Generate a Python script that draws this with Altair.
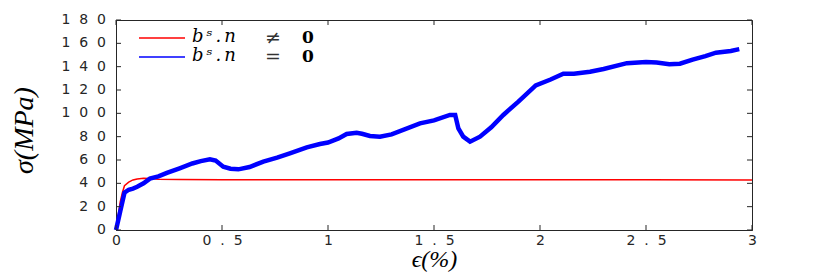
import altair as alt
import pandas as pd

# ---- data ----
x_ticks = [0, 0.5, 1, 1.5, 2, 2.5, 3]
y_ticks = [0, 20, 40, 60, 80, 100, 120, 140, 160, 180]

series = ["bˢ.n ≠ 0", "bˢ.n = 0"]
series_colors = ["#ff0000", "#0000ff"]
legend_var = ["bˢ.n", "bˢ.n"]
legend_rel = ["≠", "="]
legend_val = ["0", "0"]

red_x = [0, 0.01, 0.02, 0.03, 0.04, 0.06, 0.08, 0.1, 0.13, 0.16, 0.2, 0.3, 0.5,
         1.0, 1.5, 2.0, 2.5, 3.0]
red_y = [0, 12, 24, 32, 38, 41, 42.9, 43.8, 44.3, 44.2, 43.6, 43.2, 43.1,
         43.1, 43.1, 43.1, 43.0, 42.9]

blue_x = [0, 0.01, 0.02, 0.03, 0.04, 0.06, 0.08, 0.1, 0.13, 0.16, 0.2, 0.24,
          0.3, 0.36, 0.4, 0.443, 0.47, 0.506, 0.54, 0.577, 0.63, 0.695, 0.76,
          0.82, 0.9, 0.962, 1.0, 1.05, 1.088, 1.135, 1.16, 1.198, 1.245, 1.3,
          1.434, 1.5, 1.575, 1.6, 1.615, 1.638, 1.67, 1.717, 1.77, 1.827,
          1.898, 1.98, 2.05, 2.11, 2.16, 2.236, 2.3, 2.41, 2.5, 2.55, 2.61,
          2.66, 2.72, 2.78, 2.83, 2.9, 2.94]
blue_y = [0, 8, 16, 24, 32, 34.5, 35.5, 37, 40, 44, 46, 49,
          52.9, 57, 59, 60.6, 59.5, 54.3, 52.5, 52, 54, 58.6, 62,
          65.7, 70.9, 73.7, 75, 78.5, 82.3, 83.4, 82.5, 80.6, 80, 82,
          91.4, 94, 98.6, 98.6, 87, 80, 75.7, 80, 88, 98.6,
          110, 124, 129, 134, 134, 135.7, 138, 143, 144, 143.5, 142,
          142.5, 146, 149, 152, 153.5, 155]

df_red = pd.DataFrame({"x": red_x, "y": red_y, "s": series[0]})
df_blue = pd.DataFrame({"x": blue_x, "y": blue_y, "s": series[1]})
df_xt = pd.DataFrame({"x": x_ticks})
df_yt = pd.DataFrame({"y": y_ticks})
df_leg = pd.DataFrame({"s": series, "var": legend_var, "rel": legend_rel,
                       "val": legend_val, "row": [0, 1]})

W, H = 636, 210
FRAME = "#262626"
SPACE = "\u2007"
LABEL_EXPR = f"join(split(format(datum.value, '~g'), ''), '{SPACE}')"

xscale = alt.Scale(domain=[0, 3], nice=False, zero=False)
yscale = alt.Scale(domain=[0, 180], nice=False, zero=False)
color = alt.Color(
    "s:N",
    scale=alt.Scale(domain=series, range=series_colors),
    legend=None,
)

xaxis = alt.Axis(
    values=x_ticks,
    title="ϵ(%)",
    titleFont="Liberation Serif",
    titleFontStyle="italic",
    titleFontWeight="normal",
    titleFontSize=24,
    titleColor="#000000",
    titleX=W / 2,
    titleY=29,
    titleBaseline="middle",
    labelExpr=LABEL_EXPR,
    labelPadding=3,
    labelOverlap=False,
    labelFlush=False,
)
yaxis = alt.Axis(
    values=y_ticks,
    title="σ(MPa)",
    titleFont="Liberation Serif",
    titleFontStyle="italic",
    titleFontWeight="normal",
    titleFontSize=28,
    titleColor="#000000",
    titleX=-92,
    titleY=H / 2 + 5,
    titleAngle=-90,
    titleBaseline="middle",
    titleAlign="center",
    labels=False,
)

red = alt.Chart(df_red).mark_line(strokeWidth=1.5).encode(
    x=alt.X("x:Q", scale=xscale, axis=xaxis),
    y=alt.Y("y:Q", scale=yscale, axis=yaxis),
    color=color,
)
blue = alt.Chart(df_blue).mark_line(strokeWidth=4.5).encode(
    x=alt.X("x:Q", scale=xscale),
    y=alt.Y("y:Q", scale=yscale),
    color=color,
)

tick_style = dict(color=FRAME, strokeWidth=1)
xt_bottom = alt.Chart(df_xt).mark_rule(**tick_style).encode(
    x=alt.X("x:Q", scale=xscale), y=alt.value(H), y2=alt.value(H - 5))
xt_top = alt.Chart(df_xt).mark_rule(**tick_style).encode(
    x=alt.X("x:Q", scale=xscale), y=alt.value(0), y2=alt.value(5))
yt_left = alt.Chart(df_yt).mark_rule(**tick_style).encode(
    y=alt.Y("y:Q", scale=yscale), x=alt.value(0), x2=alt.value(5))
yt_right = alt.Chart(df_yt).mark_rule(**tick_style).encode(
    y=alt.Y("y:Q", scale=yscale), x=alt.value(W), x2=alt.value(W - 5))

# y tick labels, placed through the y scale
yt_labels = alt.Chart(df_yt).transform_calculate(
    lbl=f"join(split(format(datum.y, 'd'), ''), '{SPACE}')"
).mark_text(
    align="right", baseline="middle", font="DejaVu Sans", fontSize=14,
    color=FRAME,
).encode(y=alt.Y("y:Q", scale=yscale), x=alt.value(-10), text="lbl:N")

# ---- legend (top-left, inside the frame) ----
leg_base = alt.Chart(df_leg).transform_calculate(
    ly="18 + datum.row * 19",
    vtxt="join(split(datum.var, ''), '\u2006')",
)
leg_line = leg_base.mark_rule(strokeWidth=1.5).encode(
    x=alt.value(23), x2=alt.value(69), y=alt.Y("ly:Q", scale=None), color=color)
leg_var = leg_base.mark_text(
    align="left", baseline="middle", font="DejaVu Serif",
    fontStyle="italic", fontSize=18, color="#000000", dy=-1,
).encode(x=alt.value(76), y=alt.Y("ly:Q", scale=None), text="vtxt:N")
leg_rel = leg_base.mark_text(
    align="left", baseline="middle", font="DejaVu Serif",
    fontSize=19, color="#333333",
).encode(x=alt.value(149), y=alt.Y("ly:Q", scale=None), text="rel:N")
leg_val = leg_base.mark_text(
    align="left", baseline="middle", font="DejaVu Serif",
    fontWeight="bold", fontSize=17, color="#000000",
).encode(x=alt.value(186), y=alt.Y("ly:Q", scale=None), text="val:N")

chart = (
    alt.layer(red, blue, xt_bottom, xt_top, yt_left, yt_right, yt_labels,
              leg_line, leg_var, leg_rel, leg_val)
    .properties(
        width=W,
        height=H,
        autosize=alt.AutoSizeParams(type="none"),
        padding={"left": 108, "top": 12, "right": 70, "bottom": 43},
        background="#ffffff",
    )
    .configure_view(stroke=FRAME, strokeWidth=1)
    .configure_axis(
        grid=False,
        ticks=False,
        domainColor=FRAME,
        domainWidth=1,
        labelFont="DejaVu Sans",
        labelFontSize=14,
        labelColor=FRAME,
        labelOverlap=False,
    )
)

chart.save("out.html", embed_options={"renderer": "svg", "actions": False})
